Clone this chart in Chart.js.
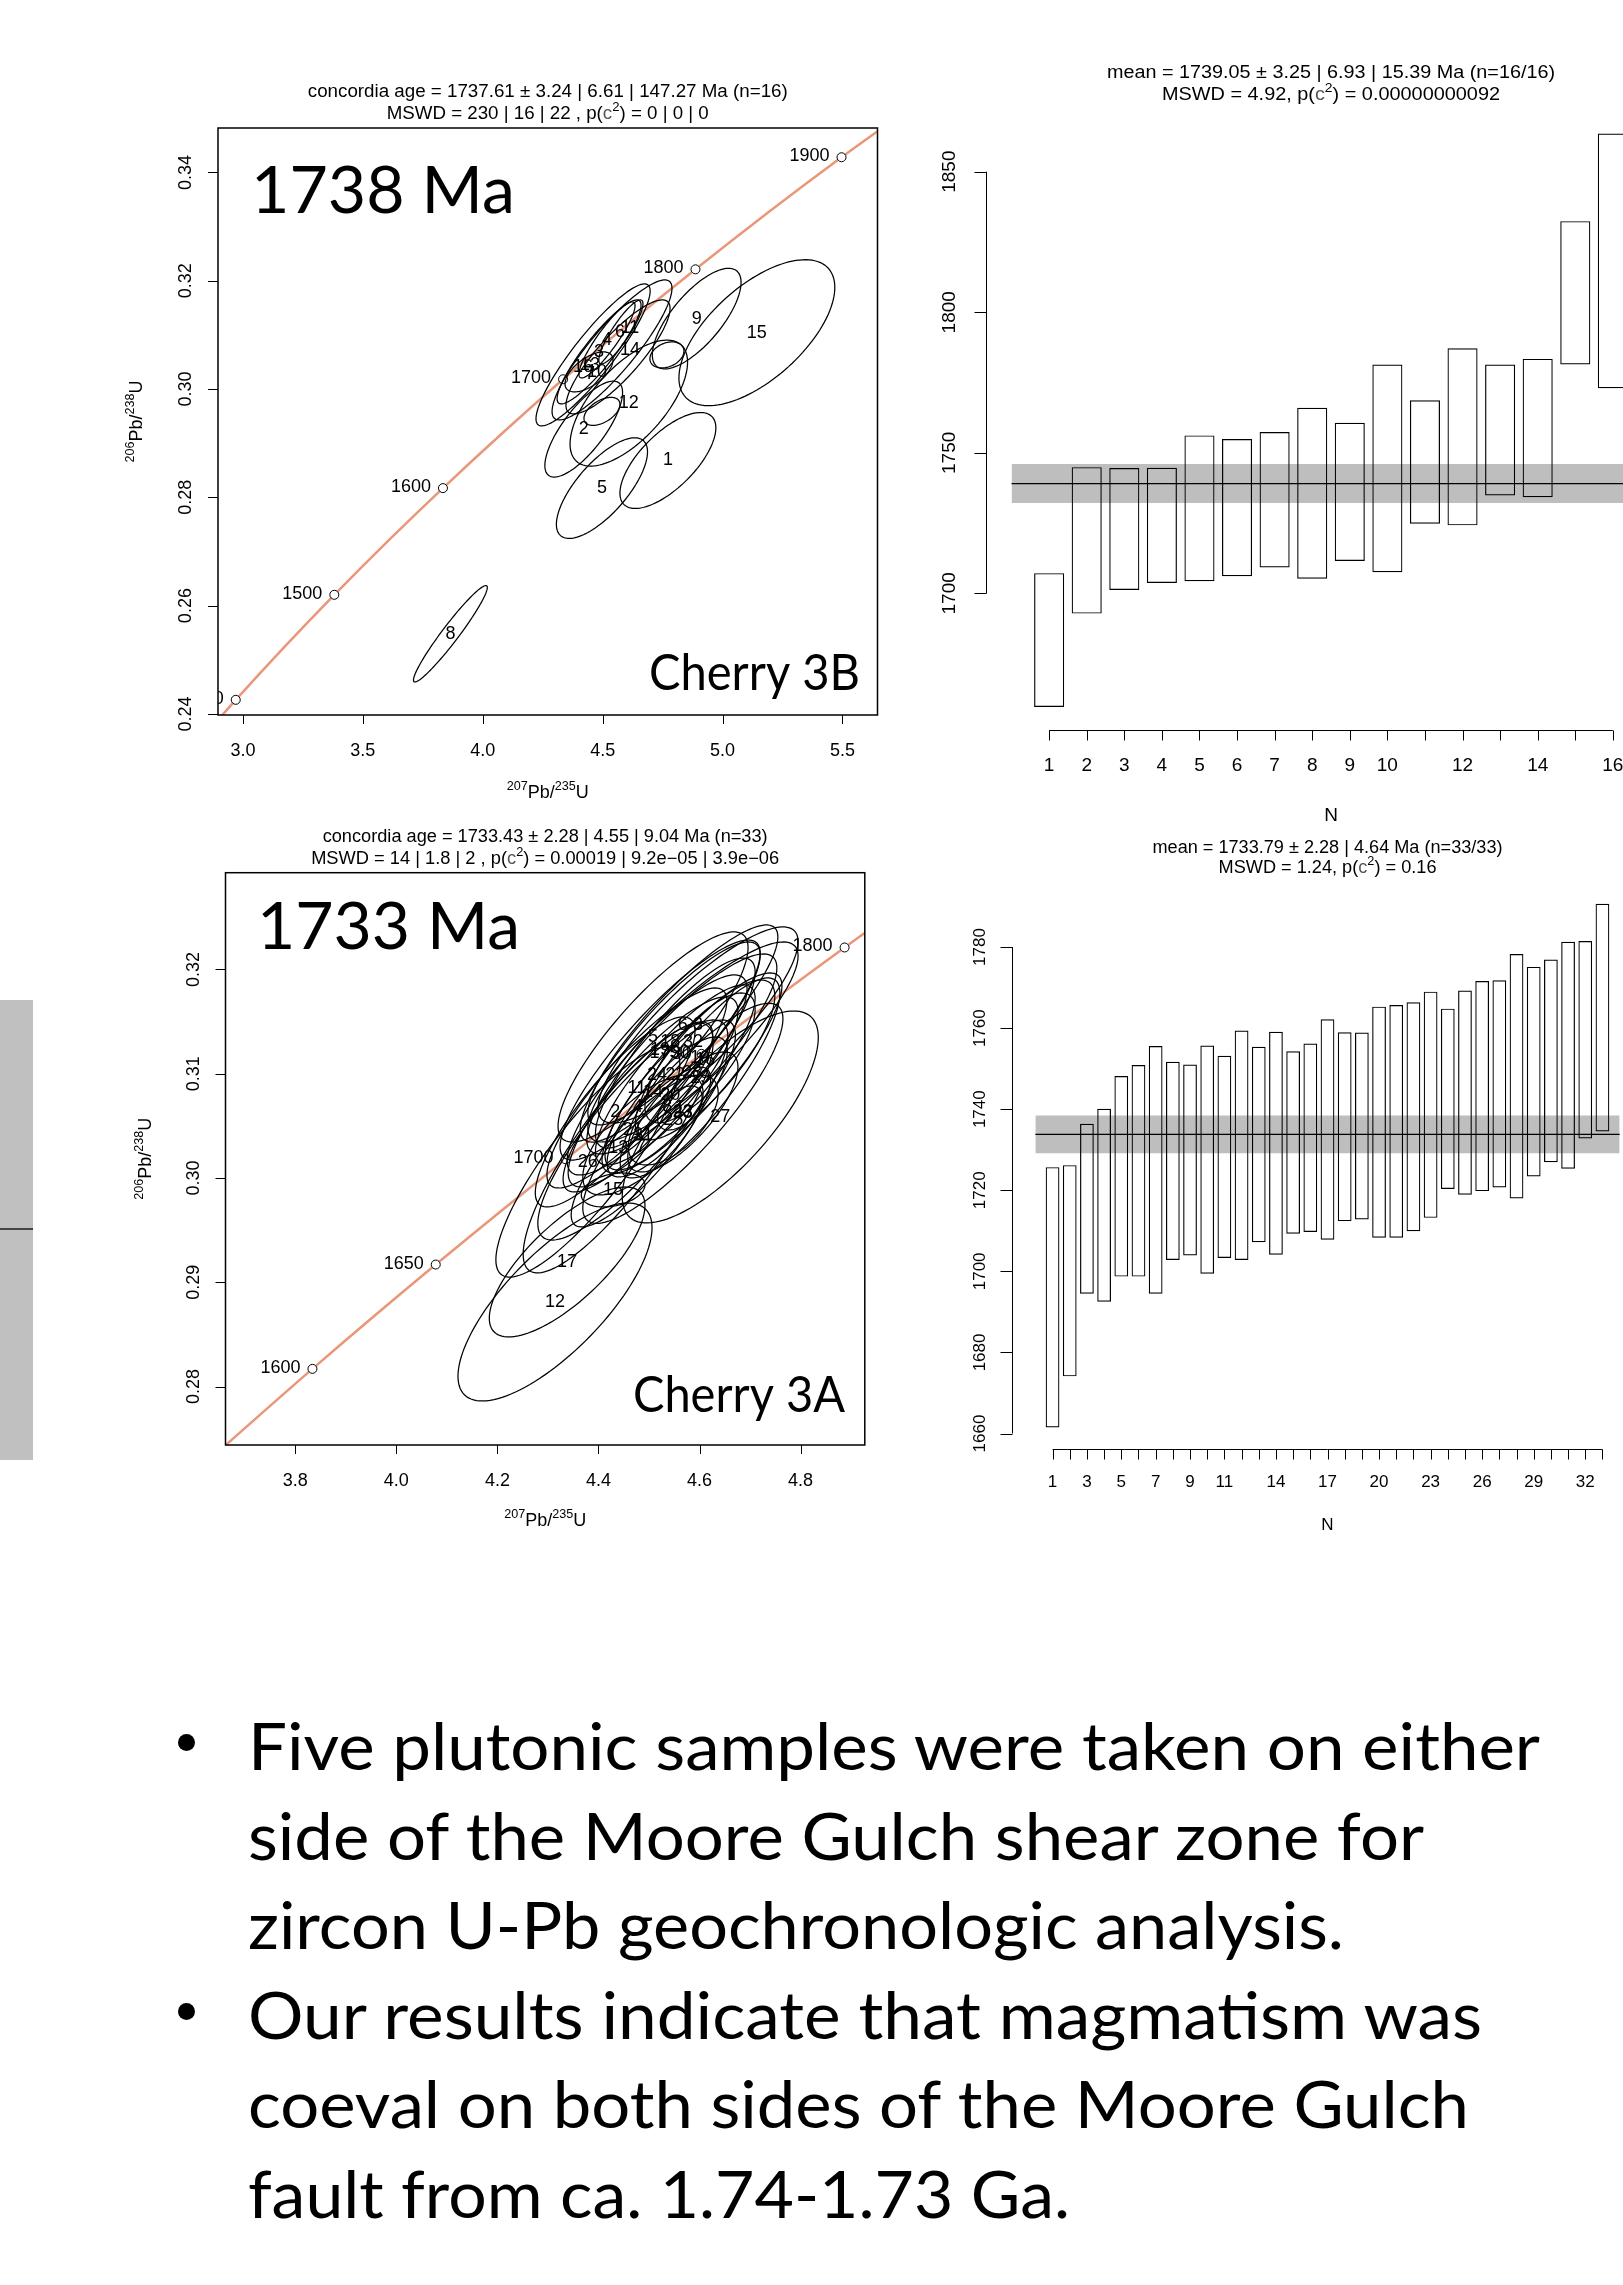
<!DOCTYPE html>
<html>
<head>
<meta charset="utf-8">
<title>Cherry 3B / Cherry 3A U-Pb zircon</title>
<script src="https://cdn.jsdelivr.net/npm/chart.js@4.4.1/dist/chart.umd.min.js"></script>
<style>
  html, body { margin: 0; padding: 0; width: 1623px; height: 2285px; overflow: hidden; background: #fff; }
  canvas { position: absolute; }
  .side { position: absolute; left: 0; top: 1000px; width: 33px; height: 460px; background: #c0c0c0; }
  .side div { position: absolute; left: 0; top: 228px; width: 33px; height: 2px; background: #444; }
  .bl { position: absolute; left: 248px; top: 0; white-space: nowrap; font-family: Lato, "Open Sans", sans-serif;
        font-size: 65px; line-height: 1.2; color: #000; transform-origin: 0 0; }
  .dot { position: absolute; width: 17px; height: 17px; border-radius: 50%; background: #000; }
</style>
</head>
<body>
<div class="side"><div></div></div>
<canvas id="c3b" width="820" height="760" style="left:80px;top:60px;width:820px;height:760px"></canvas>
<canvas id="m3b" width="800" height="800" style="left:900px;top:40px;width:800px;height:800px"></canvas>
<canvas id="c3a" width="820" height="760" style="left:80px;top:800px;width:820px;height:760px"></canvas>
<canvas id="m3a" width="800" height="740" style="left:900px;top:820px;width:800px;height:740px"></canvas>
<script>
// ---------- Cherry 3B : concordia ----------
const b3AgeT = ['1300', '1400', '1500', '1600', '1700', '1800', '1900', '2000'];
const b3AgeX = [2.598, 2.970, 3.381, 3.834, 4.335, 4.887, 5.496, 6.168];
const b3AgeY = [0.2234, 0.2426, 0.2620, 0.2817, 0.3018, 0.3221, 0.3428, 0.3638];

// error ellipses: centre, half extent in x / y, correlation
const b3EllX   = [4.772, 4.421, 4.485, 4.518, 4.497, 4.576, 4.460, 3.865, 4.892, 4.443, 4.539, 4.609, 4.497, 4.564, 5.143, 4.768];
const b3EllY   = [0.2868, 0.2926, 0.30685, 0.30907, 0.2817, 0.31054, 0.3063, 0.2548, 0.3130, 0.30316, 0.30722, 0.2974, 0.29587, 0.30593, 0.3104, 0.3063];
const b3EllSX  = [0.200, 0.162, 0.175, 0.117, 0.190, 0.092, 0.238, 0.154, 0.185, 0.100, 0.250, 0.245, 0.075, 0.217, 0.325, 0.071];
const b3EllSY  = [0.00886, 0.00886, 0.0096, 0.00702, 0.00929, 0.00591, 0.01311, 0.0089, 0.00929, 0.00369, 0.01293, 0.01163, 0.00259, 0.01053, 0.01348, 0.0024];
const b3EllRho = [0.68, 0.76, 0.9, 0.9, 0.72, 0.88, 0.9, 0.96, 0.72, 0.6, 0.88, 0.65, 0.5, 0.85, 0.62, 0.3];
const b3LabT = ['1', '2', '3', '4', '5', '6', '7', '8', '9', '10', '11', '12', '13', '14', '15', '16'];
const b3LabX = [4.772, 4.421, 4.485, 4.518, 4.497, 4.572, 4.447, 3.865, 4.892, 4.476, 4.614, 4.609, 4.447, 4.614, 5.143, 4.418];
const b3LabY = [0.2868, 0.2926, 0.3069, 0.3091, 0.2817, 0.3105, 0.3028, 0.2548, 0.3130, 0.3032, 0.3113, 0.2974, 0.3044, 0.3072, 0.3104, 0.3041];
const b3TickX = [3.0, 3.5, 4.0, 4.5, 5.0, 5.5];
const b3TickXT = ['3.0', '3.5', '4.0', '4.5', '5.0', '5.5'];
const b3TickY = [0.24, 0.26, 0.28, 0.30, 0.32, 0.34];
const b3TickYT = ['0.24', '0.26', '0.28', '0.30', '0.32', '0.34'];

// ---------- Cherry 3B : weighted mean ----------
const m3bN  = [1, 2, 3, 4, 5, 6, 7, 8, 9, 10, 11, 12, 13, 14, 15, 16];
const m3bLo = [1659.6, 1692.8, 1701.2, 1703.7, 1704.3, 1706.1, 1709.2, 1705.2, 1711.5, 1707.5, 1724.8, 1724.2, 1734.8, 1734.2, 1781.4, 1773.0];
const m3bHi = [1707.2, 1744.9, 1744.6, 1744.7, 1756.2, 1754.9, 1757.4, 1766.0, 1760.7, 1781.4, 1768.7, 1787.2, 1781.4, 1783.4, 1832.4, 1863.6];
const m3bMean = 1739.05, m3bErr = 6.93;
const m3bTickY = [1700, 1750, 1800, 1850];
const m3bTickXT = [1, 2, 3, 4, 5, 6, 7, 8, 9, 10, 12, 14, 16];

// ---------- Cherry 3A : concordia ----------
const a3AgeT = ['1550', '1600', '1650', '1700', '1750', '1800', '1850'];
const a3AgeX = [3.602, 3.834, 4.078, 4.335, 4.604, 4.887, 5.184];
const a3AgeY = [0.2718, 0.2817, 0.2917, 0.3018, 0.3119, 0.3221, 0.3324];
const a3EllX   = [4.561, 4.433, 4.597, 4.478, 4.508, 4.567, 4.484, 4.536, 4.552, 4.601, 4.476, 4.314, 4.439, 4.508, 4.429, 4.611, 4.338,
                  4.542, 4.522, 4.542, 4.468, 4.552, 4.567, 4.516, 4.548, 4.379, 4.641, 4.585, 4.601, 4.565, 4.488, 4.587, 4.567];
const a3EllY   = [0.30671, 0.30633, 0.31467, 0.30681, 0.31352, 0.31467, 0.30297, 0.30681, 0.31198, 0.31151, 0.30863, 0.28811, 0.30288, 0.30825, 0.29885, 0.31131, 0.29195,
                  0.31304, 0.31227, 0.30796, 0.30460, 0.30988, 0.30633, 0.30988, 0.30556, 0.30153, 0.30585, 0.31007, 0.30959, 0.31189, 0.30412, 0.31304, 0.30620];
const a3EllSX  = [0.044, 0.158, 0.198, 0.148, 0.188, 0.188, 0.138, 0.119, 0.158, 0.109, 0.178, 0.192, 0.188, 0.168, 0.063, 0.138, 0.154,
                  0.178, 0.198, 0.129, 0.188, 0.158, 0.109, 0.178, 0.089, 0.182, 0.194, 0.178, 0.158, 0.188, 0.119, 0.208, 0.198];
const a3EllSY  = [0.00211, 0.00911, 0.0094, 0.00815, 0.01007, 0.00959, 0.00767, 0.00671, 0.00911, 0.00623, 0.00959, 0.00949, 0.01198, 0.00911, 0.00163, 0.00767, 0.00719,
                  0.00959, 0.01055, 0.00719, 0.01055, 0.00863, 0.00575, 0.00959, 0.00431, 0.01103, 0.01016, 0.00959, 0.00959, 0.00959, 0.00575, 0.00959, 0.01055];
const a3EllRho = [0.5, 0.85, 0.85, 0.85, 0.85, 0.88, 0.85, 0.8, 0.85, 0.75, 0.87, 0.75, 0.85, 0.85, 0.3, 0.8, 0.75,
                  0.87, 0.88, 0.8, 0.85, 0.85, 0.75, 0.86, 0.6, 0.85, 0.75, 0.87, 0.85, 0.86, 0.7, 0.86, 0.86];
const a3LabT = a3EllX.map((v, i) => String(i + 1));
const a3TickX = [3.8, 4.0, 4.2, 4.4, 4.6, 4.8];
const a3TickXT = ['3.8', '4.0', '4.2', '4.4', '4.6', '4.8'];
const a3TickY = [0.28, 0.29, 0.30, 0.31, 0.32];
const a3TickYT = ['0.28', '0.29', '0.30', '0.31', '0.32'];

// ---------- Cherry 3A : weighted mean ----------
const m3aN  = Array.from({ length: 33 }, (v, i) => i + 1);
const m3aLo = [1661.5, 1674.1, 1694.5, 1692.5, 1698.7, 1698.7, 1694.5, 1702.8, 1703.9, 1699.4, 1703.3, 1702.8, 1707.2, 1704.1, 1709.3, 1709.7, 1707.8,
               1712.4, 1712.8, 1708.3, 1708.3, 1709.9, 1713.2, 1720.3, 1718.9, 1719.8, 1720.7, 1718.0, 1723.4, 1726.9, 1725.3, 1732.8, 1734.5];
const m3aHi = [1725.7, 1726.2, 1736.4, 1740.1, 1748.2, 1750.9, 1755.6, 1751.7, 1751.0, 1755.7, 1753.2, 1759.4, 1755.4, 1759.1, 1754.3, 1756.2, 1762.2,
               1759.0, 1758.9, 1765.3, 1765.7, 1766.4, 1769.0, 1764.8, 1769.3, 1771.6, 1771.8, 1778.3, 1775.1, 1776.9, 1781.3, 1781.5, 1790.7];
const m3aMean = 1733.79, m3aErr = 4.64;
const m3aTickY = [1660, 1680, 1700, 1720, 1740, 1760, 1780];
const m3aTickXT = [1, 3, 5, 7, 9, 11, 14, 17, 20, 23, 26, 29, 32];

const RFONT = '"Liberation Sans", Arial, sans-serif';
const SFONT = 'Lato, "Open Sans", sans-serif';
const CHI = { t: 'c', col: '#555' };
const SQ = { t: '2', sup: true };

// text with superscripts, centred on (cx, cy); optionally rotated and squeezed to a width
function drawRich(ctx, parts, cx, cy, size, opt) {
    opt = opt || {};
    const segs = parts.map(p => (typeof p === 'string' ? { t: p } : Object.assign({}, p)));
    let w = 0;
    segs.forEach(s => {
        s.size = s.sup ? size * 0.7 : size;
        ctx.font = s.size + 'px ' + RFONT;
        s.w = ctx.measureText(s.t).width;
        w += s.w;
    });
    const k = opt.width ? opt.width / w : 1;
    ctx.save();
    ctx.translate(cx, cy);
    if (opt.rot) ctx.rotate(opt.rot);
    ctx.scale(k, 1);
    ctx.textAlign = 'left';
    ctx.textBaseline = 'alphabetic';
    let xx = -w / 2;
    const base = size * 0.36;
    segs.forEach(s => {
        ctx.font = s.size + 'px ' + RFONT;
        ctx.fillStyle = s.col || '#000';
        ctx.fillText(s.t, xx, s.sup ? base - size * 0.45 : base);
        xx += s.w;
    });
    ctx.restore();
}

// slide label (Calibri-like) fitted to a width
function fitText(ctx, txt, left, base, size, width) {
    ctx.save();
    ctx.font = size + 'px ' + SFONT;
    ctx.textAlign = 'left';
    ctx.textBaseline = 'alphabetic';
    ctx.fillStyle = '#000';
    const w = ctx.measureText(txt).width;
    ctx.translate(left, base);
    ctx.scale(width / w, 1);
    ctx.fillText(txt, 0, 0);
    ctx.restore();
}

function concordiaDeco(cfg) {
    return {
        id: 'conc_' + cfg.id,
        afterDatasetsDraw(chart) {
            const { ctx, chartArea: a, scales: { x, y } } = chart;
            ctx.save();
            ctx.beginPath();
            ctx.rect(a.left, a.top, a.right - a.left, a.bottom - a.top);
            ctx.clip();
            // error ellipses
            ctx.strokeStyle = '#000';
            ctx.lineWidth = 1.25;
            cfg.ex.forEach((cx, i) => {
                const cy = cfg.ey[i], sx = cfg.sx[i], sy = cfg.sy[i], r = cfg.rho[i];
                const q = Math.sqrt(1 - r * r);
                ctx.beginPath();
                for (let k = 0; k <= 120; k++) {
                    const t = k / 120 * 2 * Math.PI;
                    const px = x.getPixelForValue(cx + sx * Math.cos(t));
                    const py = y.getPixelForValue(cy + sy * (r * Math.cos(t) + q * Math.sin(t)));
                    if (k) ctx.lineTo(px, py); else ctx.moveTo(px, py);
                }
                ctx.closePath();
                ctx.stroke();
            });
            // ellipse numbers
            ctx.fillStyle = '#000';
            ctx.font = '18px ' + RFONT;
            ctx.textAlign = 'center';
            ctx.textBaseline = 'middle';
            cfg.lt.forEach((t, i) => ctx.fillText(t, x.getPixelForValue(cfg.lx[i]), y.getPixelForValue(cfg.ly[i])));
            // ages along concordia
            ctx.textAlign = 'right';
            cfg.at.forEach((t, i) => ctx.fillText(t, x.getPixelForValue(cfg.ax[i]) - 12, y.getPixelForValue(cfg.ay[i]) - 1));
            ctx.restore();

            // big slide labels
            fitText(ctx, cfg.age, a.left + cfg.ageDx, a.top + cfg.ageDy, 66, cfg.ageW);
            fitText(ctx, cfg.name, a.right - cfg.nameDx - cfg.nameW, a.bottom - cfg.nameDy, 50, cfg.nameW);

            // frame, ticks, labels
            ctx.save();
            ctx.strokeStyle = '#000';
            ctx.lineWidth = 1.5;
            ctx.strokeRect(a.left, a.top, a.right - a.left, a.bottom - a.top);
            ctx.lineWidth = 1;
            ctx.beginPath();
            cfg.tx.forEach(v => {
                const px = Math.round(x.getPixelForValue(v)) + 0.5;
                ctx.moveTo(px, a.bottom); ctx.lineTo(px, a.bottom + 9);
            });
            cfg.ty.forEach(v => {
                const py = Math.round(y.getPixelForValue(v)) + 0.5;
                ctx.moveTo(a.left, py); ctx.lineTo(a.left - 10, py);
            });
            ctx.stroke();
            ctx.restore();
            cfg.tx.forEach((v, i) => drawRich(ctx, [cfg.txt[i]], x.getPixelForValue(v), a.bottom + 35, 18));
            cfg.ty.forEach((v, i) => drawRich(ctx, [cfg.tyt[i]], a.left - 33, y.getPixelForValue(v), 18, { rot: -Math.PI / 2 }));
            drawRich(ctx, [{ t: '207', sup: true }, 'Pb/', { t: '235', sup: true }, 'U'], (a.left + a.right) / 2, a.bottom + cfg.xTitleDy, 18);
            drawRich(ctx, [{ t: '206', sup: true }, 'Pb/', { t: '238', sup: true }, 'U'], a.left - cfg.yTitleDx, (a.top + a.bottom) / 2, 18, { rot: -Math.PI / 2 });
            cfg.title.forEach((p, i) => drawRich(ctx, p, (a.left + a.right) / 2, a.top + cfg.titleDy[i], 17.5, { width: cfg.titleW[i] }));
        }
    };
}

function meanDeco(cfg) {
    return {
        id: 'mean_' + cfg.id,
        afterDraw(chart) {
            const { ctx, chartArea: a, scales: { x, y } } = chart;
            ctx.save();
            ctx.strokeStyle = '#000';
            ctx.lineWidth = 1;
            ctx.beginPath();
            const yl = Math.round(a.left) + 0.5;
            ctx.moveTo(yl, y.getPixelForValue(cfg.ty[0]));
            ctx.lineTo(yl, y.getPixelForValue(cfg.ty[cfg.ty.length - 1]));
            cfg.ty.forEach(v => {
                const py = Math.round(y.getPixelForValue(v)) + 0.5;
                ctx.moveTo(yl, py); ctx.lineTo(yl - 12, py);
            });
            const xb = Math.round(a.bottom) + 0.5;
            ctx.moveTo(x.getPixelForValue(cfg.n[0]), xb);
            ctx.lineTo(x.getPixelForValue(cfg.n[cfg.n.length - 1]), xb);
            cfg.n.forEach(v => {
                const px = Math.round(x.getPixelForValue(v)) + 0.5;
                ctx.moveTo(px, xb); ctx.lineTo(px, xb + 10);
            });
            ctx.stroke();
            ctx.restore();
            cfg.ty.forEach(v => drawRich(ctx, [String(v)], a.left - cfg.yLabDx, y.getPixelForValue(v), cfg.fs, { rot: -Math.PI / 2 }));
            cfg.txt.forEach(v => drawRich(ctx, [String(v)], x.getPixelForValue(v), a.bottom + cfg.xLabDy, cfg.fs));
            drawRich(ctx, ['N'], (a.left + a.right) / 2, a.bottom + cfg.nDy, cfg.fs);
            cfg.title.forEach((p, i) => drawRich(ctx, p, (a.left + a.right) / 2, a.top + cfg.titleDy[i], 17.5, { width: cfg.titleW[i] }));
        }
    };
}

const noUi = { legend: { display: false }, tooltip: { enabled: false } };

function concordiaChart(id, pad, lim, ages, deco) {
    return new Chart(document.getElementById(id), {
        type: 'scatter',
        data: {
            datasets: [
                {
                    type: 'line',
                    data: ages.x.map((v, i) => ({ x: v, y: ages.y[i] })),
                    borderColor: '#E9967A', borderWidth: 2.5, pointRadius: 0, tension: 0.3, clip: 0, order: 2
                },
                {
                    type: 'scatter',
                    data: ages.x.map((v, i) => ({ x: v, y: ages.y[i] })),
                    pointRadius: 4.5, pointBackgroundColor: '#fff', pointBorderColor: '#000', pointBorderWidth: 1,
                    clip: 0, order: 1
                }
            ]
        },
        options: {
            responsive: false, animation: false, events: [],
            layout: { padding: pad },
            plugins: noUi,
            scales: {
                x: { type: 'linear', display: false, min: lim[0], max: lim[1] },
                y: { type: 'linear', display: false, min: lim[2], max: lim[3] }
            }
        },
        plugins: [concordiaDeco(deco)]
    });
}

function meanChart(id, pad, lim, n, lo, hi, mean, err, deco) {
    const end = n.length + 1;
    return new Chart(document.getElementById(id), {
        type: 'bar',
        data: {
            datasets: [
                {
                    type: 'line', data: [{ x: 0, y: mean + err }, { x: end, y: mean + err }],
                    borderWidth: 0, pointRadius: 0, fill: '+1', backgroundColor: '#BEBEBE', order: 10
                },
                {
                    type: 'line', data: [{ x: 0, y: mean - err }, { x: end, y: mean - err }],
                    borderWidth: 0, pointRadius: 0, fill: false, order: 9
                },
                {
                    type: 'bar', data: n.map((v, i) => ({ x: v, y: [lo[i], hi[i]] })),
                    backgroundColor: 'rgba(0,0,0,0)', borderColor: '#000', borderWidth: 1.2, borderSkipped: false,
                    barPercentage: 0.8, categoryPercentage: 1, order: 5
                },
                {
                    type: 'line', data: [{ x: 0, y: mean }, { x: end, y: mean }],
                    borderColor: '#000', borderWidth: 1.3, pointRadius: 0, fill: false, order: 1
                }
            ]
        },
        options: {
            responsive: false, animation: false, events: [],
            layout: { padding: pad },
            plugins: noUi,
            scales: {
                x: {
                    type: 'linear', display: false, offset: false, min: lim[0], max: lim[1],
                    afterBuildTicks: s => { s.ticks = n.map(v => ({ value: v })); }
                },
                y: { type: 'linear', display: false, min: lim[2], max: lim[3] }
            }
        },
        plugins: [meanDeco(deco)]
    });
}

concordiaChart('c3b', { left: 138, right: 22.5, top: 68, bottom: 105 }, [2.896, 5.646, 0.2398, 0.3482],
    { x: b3AgeX, y: b3AgeY },
    {
        id: '3b', ex: b3EllX, ey: b3EllY, sx: b3EllSX, sy: b3EllSY, rho: b3EllRho,
        lt: b3LabT, lx: b3LabX, ly: b3LabY, at: b3AgeT, ax: b3AgeX, ay: b3AgeY,
        tx: b3TickX, txt: b3TickXT, ty: b3TickY, tyt: b3TickYT,
        xTitleDy: 77, yTitleDx: 82,
        title: [['concordia age = 1737.61 ± 3.24 | 6.61 | 147.27 Ma (n=16)'],
                ['MSWD = 230 | 16 | 22 , p(', CHI, SQ, ') = 0 | 0 | 0']],
        titleDy: [-37, -15], titleW: [480, 322],
        age: '1738 Ma', ageDx: 33, ageDy: 85, ageW: 264,
        name: 'Cherry 3B', nameDx: 17.5, nameDy: 25, nameW: 211
    });

meanChart('m3b', { left: 86, right: 24, top: 70.4, bottom: 110 }, [-0.68, 17.68, 1651.4, 1871.8],
    m3bN, m3bLo, m3bHi, m3bMean, m3bErr,
    {
        id: '3b', n: m3bN, ty: m3bTickY, txt: m3bTickXT, fs: 19, yLabDx: 38, xLabDy: 34, nDy: 84,
        title: [['mean = 1739.05 ± 3.25 | 6.93 | 15.39 Ma (n=16/16)'],
                ['MSWD = 4.92, p(', CHI, SQ, ') = 0.00000000092']],
        titleDy: [-38.8, -16.8], titleW: [448, 338]
    });

concordiaChart('c3a', { left: 145.5, right: 35.2, top: 72.7, bottom: 115 }, [3.662, 4.927, 0.2744, 0.32927],
    { x: a3AgeX, y: a3AgeY },
    {
        id: '3a', ex: a3EllX, ey: a3EllY, sx: a3EllSX, sy: a3EllSY, rho: a3EllRho,
        lt: a3LabT, lx: a3EllX, ly: a3EllY, at: a3AgeT, ax: a3AgeX, ay: a3AgeY,
        tx: a3TickX, txt: a3TickXT, ty: a3TickY, tyt: a3TickYT,
        xTitleDy: 75, yTitleDx: 80.5,
        title: [['concordia age = 1733.43 ± 2.28 | 4.55 | 9.04 Ma (n=33)'],
                ['MSWD = 14 | 1.8 | 2 , p(', CHI, SQ, ') = 0.00019 | 9.2e\u221205 | 3.9e\u221206']],
        titleDy: [-36.7, -14.7], titleW: [445, 468],
        age: '1733 Ma', ageDx: 31.5, ageDy: 76.5, ageW: 263,
        name: 'Cherry 3A', nameDx: 19.8, nameDy: 33, nameW: 212
    });

meanChart('m3a', { left: 112, right: 57, top: 62.6, bottom: 111.5 }, [-1.36, 35.36, 1656.3, 1795.9],
    m3aN, m3aLo, m3aHi, m3aMean, m3aErr,
    {
        id: '3a', n: m3aN, ty: m3aTickY, txt: m3aTickXT, fs: 17, yLabDx: 33, xLabDy: 32.5, nDy: 75.5,
        title: [['mean = 1733.79 ± 2.28 | 4.64 Ma (n=33/33)'],
                ['MSWD = 1.24, p(', CHI, SQ, ') = 0.16']],
        titleDy: [-36.1, -16.1], titleW: [350, 218]
    });

// ---------- bullet text ----------
const bulletLines = [
    { t: 'Five plutonic samples were taken on either', w: 1292, dot: true },
    { t: 'side of the Moore Gulch shear zone for', w: 1176 },
    { t: 'zircon U-Pb geochronologic analysis.', w: 1096 },
    { t: 'Our results indicate that magmatism was', w: 1234, dot: true },
    { t: 'coeval on both sides of the Moore Gulch', w: 1221 },
    { t: 'fault from ca. 1.74-1.73 Ga.', w: 822 }
];
const firstBase = 1770, lineGap = 89.6;

function placeLine(text, base, width) {
    const d = document.createElement('div');
    d.className = 'bl';
    d.textContent = text;
    const mark = document.createElement('span');
    mark.style.cssText = 'display:inline-block;width:0;height:0;vertical-align:baseline';
    d.appendChild(mark);
    document.body.appendChild(d);
    d.style.top = (base - mark.offsetTop) + 'px';
    d.style.transform = 'scaleX(' + (width / d.getBoundingClientRect().width) + ')';
}

bulletLines.forEach((l, i) => {
    const base = firstBase + i * lineGap;
    placeLine(l.t, base, l.w);
    if (l.dot) {
        const dot = document.createElement('div');
        dot.className = 'dot';
        dot.style.left = '178px';
        dot.style.top = (base - 36) + 'px';
        document.body.appendChild(dot);
    }
});
</script>
</body>
</html>
